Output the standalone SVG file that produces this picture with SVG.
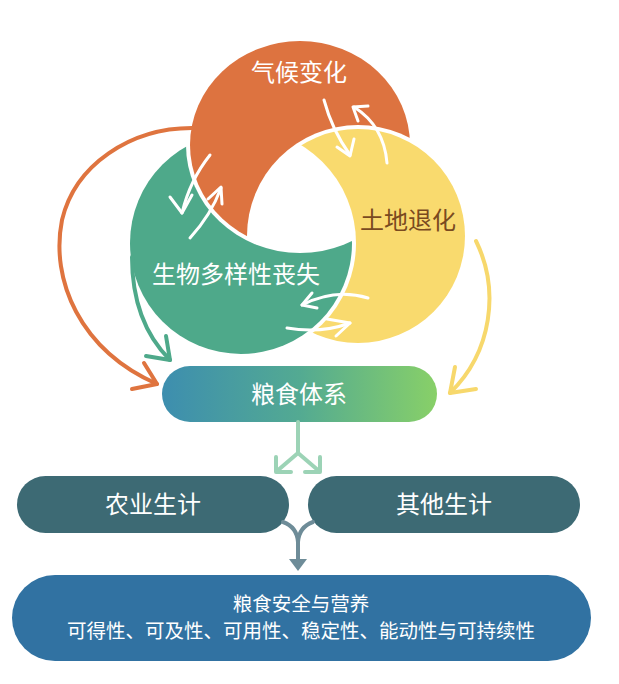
<svg xmlns="http://www.w3.org/2000/svg" width="619" height="684" viewBox="0 0 619 684">
<style>
.lbl{font-family:"Noto Sans CJK SC","Noto Sans",sans-serif;font-size:24px;text-anchor:middle;fill:#fff}
.sm{font-family:"Noto Sans CJK SC","Noto Sans",sans-serif;font-size:19.5px;text-anchor:middle;fill:#fff}
.wa{fill:none;stroke:#fff;stroke-width:3;stroke-linecap:round;stroke-linejoin:round}
.oa{fill:none;stroke-width:4;stroke-linecap:round;stroke-linejoin:round}
</style>
<defs>
<mask id="cutY" maskUnits="userSpaceOnUse" x="0" y="0" width="619" height="684"><rect width="619" height="684" fill="#fff"/><circle cx="358" cy="236" r="111" fill="#000"/></mask>
<mask id="cutG" maskUnits="userSpaceOnUse" x="0" y="0" width="619" height="684"><rect width="619" height="684" fill="#fff"/><circle cx="241" cy="243" r="115" fill="#000"/></mask>
<mask id="cutO" maskUnits="userSpaceOnUse" x="0" y="0" width="619" height="684"><rect width="619" height="684" fill="#fff"/><ellipse cx="300" cy="145" rx="114" ry="108" fill="#000"/></mask>
<linearGradient id="gFood" x1="0" y1="0" x2="1" y2="0">
<stop offset="0" stop-color="#3D8EAF"/><stop offset="0.5" stop-color="#53AA92"/><stop offset="1" stop-color="#88D068"/>
</linearGradient>
</defs>
<rect width="619" height="684" fill="#fff"/>

<g id="node-climate">
<ellipse cx="300" cy="145" rx="110" ry="104" fill="#DD7340" mask="url(#cutY)"/>
<text class="lbl" x="299" y="81">气候变化</text>
</g>
<g id="node-land">
<circle cx="358" cy="236" r="107" fill="#F9DA6E" mask="url(#cutG)"/>
<text class="lbl" x="408" y="229" style="fill:#7A4A1F">土地退化</text>
</g>
<g id="node-bio">
<circle cx="241" cy="243" r="111" fill="#4EA98A" mask="url(#cutO)"/>
<text class="lbl" x="236" y="283">生物多样性丧失</text>
</g>

<g id="node-food">
<rect x="162" y="366" width="275" height="56" rx="28" fill="url(#gFood)"/>
<text class="lbl" x="299" y="403">粮食体系</text>
</g>
<g id="node-agri">
<rect x="17" y="476" width="272" height="57" rx="28.5" fill="#3D6A74"/>
<text class="lbl" x="153" y="513">农业生计</text>
</g>
<g id="node-other">
<rect x="308" y="476" width="272" height="57" rx="28.5" fill="#3D6A74"/>
<text class="lbl" x="444" y="513">其他生计</text>
</g>
<g id="node-security">
<rect x="12" y="575" width="579" height="86" rx="43" fill="#3172A2"/>
<text class="sm" x="301" y="611">粮食安全与营养</text>
<text class="sm" x="301" y="638">可得性、可及性、可用性、稳定性、能动性与可持续性</text>
</g>

<g id="connectors">
<!-- white arrows between circles -->
<path class="wa" d="M324,100 Q332,130 350,155"/>
<path class="wa" d="M337,147 L350,156 L354,139"/>
<path class="wa" d="M387,163 Q384,126 354,107"/>
<path class="wa" d="M358,121 L353,107 L368,106"/>
<path class="wa" d="M210,155 Q190,180 182,213"/>
<path class="wa" d="M170,197 L182,213 L192,195"/>
<path class="wa" d="M190,238 Q211,215 221,188"/>
<path class="wa" d="M208,199 L221,187 L222,204"/>
<path class="wa" d="M368,298 Q335,288 302,305"/>
<path class="wa" d="M312,293 L302,305 L317,308"/>
<path class="wa" d="M287,328 Q320,334 350,323"/>
<path class="wa" d="M327,319 L350,323 L336,336"/>
<!-- outer arrows to food system -->
<path class="oa" stroke="#DF743F" d="M192,128 C130,128 75,165 62,220 C50,280 80,350 157,384"/>
<path class="oa" stroke="#DF743F" d="M144,363 L157,384 L132,389"/>
<path class="oa" stroke="#4EA98A" d="M132,257 C132,300 145,335 170,360"/>
<path class="oa" stroke="#4EA98A" d="M166,336 L170,360 L146,356"/>
<path class="oa" stroke="#F7D86C" d="M476,241 C500,290 492,352 450,393"/>
<path class="oa" stroke="#F7D86C" d="M455,367 L450,393 L476,389"/>
<!-- food system to livelihoods -->
<path class="oa" stroke="#9CD3B6" stroke-linecap="butt" d="M298,422 L298,453 L277,471 M298,453 L319,471"/>
<path class="oa" stroke="#9CD3B6" stroke-linecap="butt" stroke-linejoin="miter" d="M276,457 L276,472 L291,472 M320,457 L320,472 L305,472"/>
<!-- livelihoods to food security -->
<path class="oa" stroke="#6E8C98" d="M283,522 Q297,527 298,542 M313,522 Q299,527 298,542 L298,560"/>
<path fill="#6E8C98" d="M289,559 L307,559 L298,571 Z"/>
</g>
</svg>
